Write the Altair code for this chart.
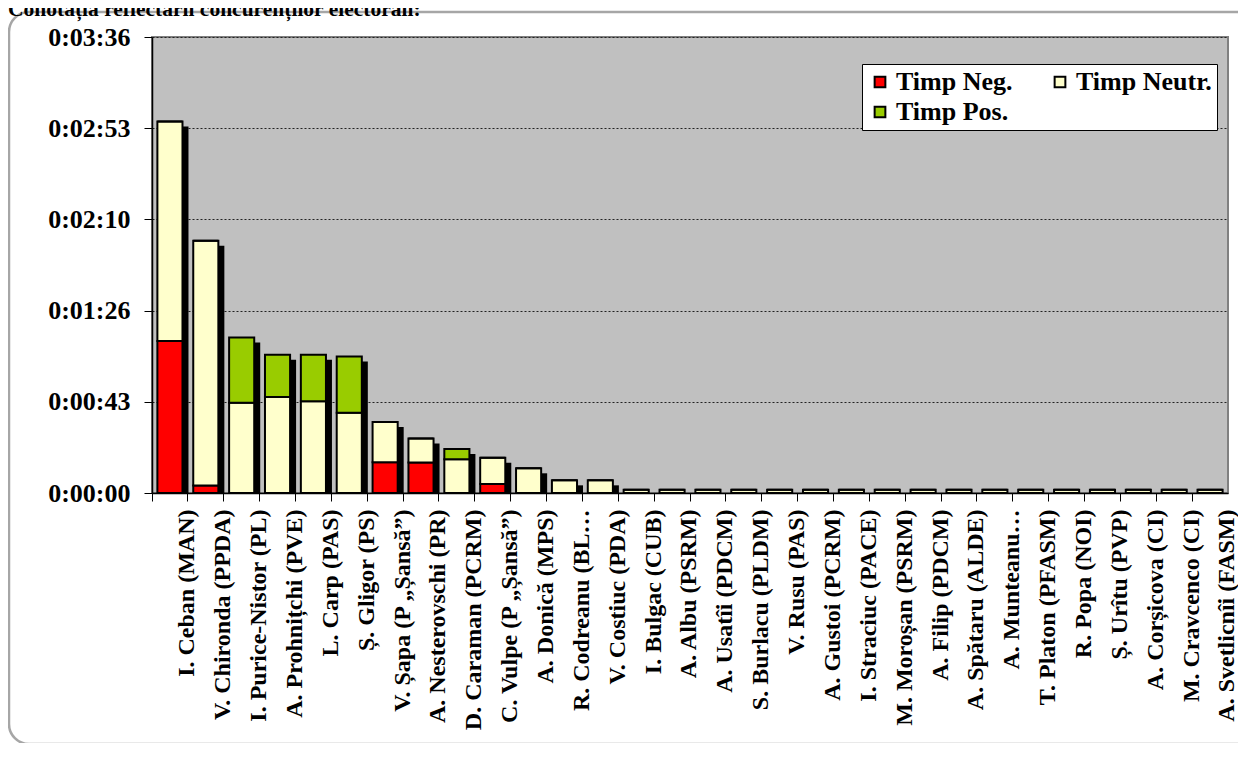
import altair as alt
import pandas as pd

names = [
    "I. Ceban (MAN)", "V. Chironda (PPDA)", "I. Purice-Nistor (PL)", "A. Prohnițchi (PVE)",
    "L. Carp (PAS)", "Ș. Gligor (PS)", "V. Șapa (P „Șansă”)", "A. Nesterovschi (PR)",
    "D. Caraman (PCRM)", "C. Vulpe (P „Șansă”)", "A. Donică (MPS)", "R. Codreanu (BL…",
    "V. Costiuc (PDA)", "I. Bulgac (CUB)", "A. Albu (PSRM)", "A. Usatîi (PDCM)",
    "S. Burlacu (PLDM)", "V. Rusu (PAS)", "A. Gustoi (PCRM)", "I. Straciuc (PACE)",
    "M. Moroșan (PSRM)", "A. Filip (PDCM)", "A. Spătaru (ALDE)", "A. Munteanu…",
    "T. Platon (PFASM)", "R. Popa (NOI)", "Ș. Urîtu (PVP)", "A. Corșicova (CI)",
    "M. Cravcenco (CI)", "A. Svetlicnîi (FASM)",
]
# seconds
neg = [72, 3.5, 0, 0, 0, 0, 14.6, 14.5, 0, 4.3, 0, 0, 0,
       0, 0, 0, 0, 0, 0, 0, 0, 0, 0, 0, 0, 0, 0, 0, 0, 0]
neu = [104, 116, 42.7, 45.5, 43.5, 38, 19, 11.3, 16, 12.4, 11.7, 6, 6,
       1.5, 1.5, 1.5, 1.5, 1.5, 1.5, 1.5, 1.5, 1.5, 1.5, 1.5, 1.5, 1.5, 1.5, 1.5, 1.5, 1.5]
pos = [0, 0, 31, 20, 22, 26.6, 0, 0, 4.9, 0, 0, 0, 0,
       0, 0, 0, 0, 0, 0, 0, 0, 0, 0, 0, 0, 0, 0, 0, 0, 0]
series = ["Timp Neg.", "Timp Neutr.", "Timp Pos."]
colors = ["#FF0000", "#FFFFCC", "#99CC00"]
y_ticks = [0, 43.2, 86.4, 129.6, 172.8, 216]
title_text = "Conotația reflectării concurenților electorali:"

FONT = "Liberation Serif"

df = pd.DataFrame({"cand": names, "neg": neg, "neu": neu, "pos": pos})

xenc = alt.X(
    "cand:N", sort=None, title=None,
    scale=alt.Scale(paddingInner=0, paddingOuter=0),
    axis=alt.Axis(
        labelAngle=-90, labelAlign="right", labelBaseline="middle",
        labelFont=FONT, labelFontSize=24, labelFontWeight="bold", labelColor="black",
        labelPadding=8, labelLimit=400, bandPosition=0, labelOffset=17.4,
        tickSize=8, tickColor="black", domainColor="black", domainWidth=1.5,
        labelOverlap=False,
    ),
)

yscale = alt.Scale(domain=[0, 216], nice=False)

shadow = (
    alt.Chart(df)
    .transform_calculate(total="datum.neg + datum.neu + datum.pos")
    .mark_bar(color="black", xOffset=6, yOffset=5, clip=True, width={"band": 0.7})
    .encode(x=xenc, y=alt.Y("total:Q", scale=yscale))
)

bars = (
    alt.Chart(df)
    .transform_fold(["neg", "neu", "pos"], as_=["key", "val"])
    .transform_calculate(
        serie="datum.key == 'neg' ? 'Timp Neg.' : (datum.key == 'neu' ? 'Timp Neutr.' : 'Timp Pos.')",
        k="datum.key == 'neg' ? 0 : (datum.key == 'neu' ? 1 : 2)",
    )
    .mark_bar(stroke="black", strokeWidth=2, width={"band": 0.7})
    .encode(
        x=xenc,
        y=alt.Y(
            "val:Q", stack="zero", scale=yscale, title=None,
            axis=alt.Axis(
                values=y_ticks,
                labelExpr="'0:' + pad('' + floor(round(datum.value) / 60), 2, '0', 'left') + ':' + pad('' + (round(datum.value) % 60), 2, '0', 'left')",
                labelFont=FONT, labelFontSize=26, labelFontWeight="bold", labelColor="black",
                labelPadding=14, tickSize=8, tickColor="black",
                domainColor="black", domainWidth=1.5,
                grid=True, gridColor="#222222", gridDash=[2, 2], gridWidth=1,
            ),
        ),
        color=alt.Color(
            "serie:N",
            scale=alt.Scale(domain=series, range=colors),
            legend=alt.Legend(
                title=None, orient="none", legendX=710, legendY=27, columns=2,
                direction="horizontal",
                fillColor="white", strokeColor="black", padding=5,
                columnPadding=34, rowPadding=4,
                labelFont=FONT, labelFontSize=26, labelFontWeight="bold", labelColor="black",
                labelOffset=3, symbolType="square", symbolSize=115,
                symbolStrokeColor="black", symbolStrokeWidth=2,
            ),
        ),
        order=alt.Order("k:Q", sort="ascending"),
    )
)

one = pd.DataFrame({"a": [0]})

frame = (
    alt.Chart(one)
    .mark_rect(fill="white", fillOpacity=0, stroke="#A6A6A6", strokeWidth=2.5, cornerRadius=20)
    .encode(x=alt.value(-143), x2=alt.value(1110), y=alt.value(-25), y2=alt.value(707))
)

title = (
    alt.Chart(one)
    .mark_text(text=title_text, align="left", baseline="alphabetic",
               font=FONT, fontSize=21.5, fontWeight="bold", color="black")
    .encode(x=alt.value(-144), y=alt.value(-21))
)

chart = (
    alt.layer(frame, shadow, bars, title)
    .properties(
        width=1076, height=456,
        autosize=alt.AutoSizeParams(type="none"),
        padding={"left": 144, "top": 29, "right": 10, "bottom": 250},
        background="white",
    )
    .configure_view(fill="#C0C0C0", stroke="#808080", strokeWidth=2)
)

chart.save("out.html", embed_options={"renderer": "svg", "actions": False})
